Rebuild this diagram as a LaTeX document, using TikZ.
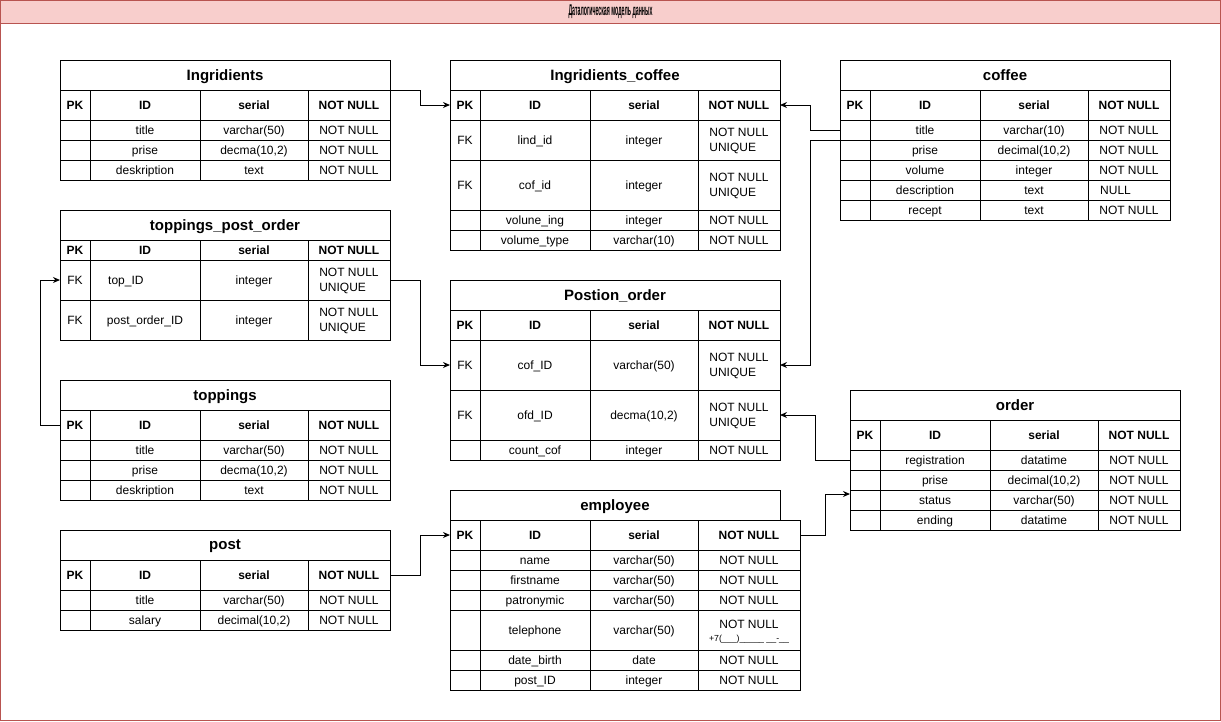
\documentclass[tikz,border=0pt]{standalone}
\usepackage{fontspec}
\setmainfont{Liberation Sans}
\usepackage{graphicx}
\usetikzlibrary{arrows.meta}
\definecolor{frameR}{HTML}{B85450}
\definecolor{framePink}{HTML}{F8CECC}
\newcommand\ttlfont{\fontsize{15}{18}\selectfont\bfseries}
\newcommand\cellbox[6]{\node[cell, minimum width=#4pt, minimum height=#5pt] (#1) at ({#2+#4/2},{#3+#5/2}) {\vphantom{A}#6};}
\newcommand\trow[9]{%
\cellbox{#1-1}{#2}{#3}{30}{#4}{#5}%
\cellbox{#1-2}{#2+30}{#3}{110}{#4}{#6}%
\cellbox{#1-3}{#2+140}{#3}{108}{#4}{#7}%
\cellbox{#1-4}{#2+248}{#3}{#9}{#4}{#8}}
\newcommand\hrow[4]{\trow{#1}{#2}{#3}{#4}{\bfseries PK}{\bfseries ID}{\bfseries serial}{\bfseries NOT NULL}{82}}
\begin{document}
\begin{tikzpicture}[x=1pt,y=-1pt,
  cell/.style={draw=black, line width=1pt, inner sep=0pt, outer sep=0pt, align=left, text depth=0pt, font=\fontsize{12}{15}\selectfont},
  txt/.style={inner sep=0pt, text depth=0pt, font=\fontsize{12}{15}\selectfont},
  conn/.style={draw=black, line width=1pt, -{Stealth[length=7pt,width=6pt]}}]
\useasboundingbox (0,0) rectangle (1221,721);
% frame
\node[draw=frameR, line width=1pt, minimum width=1220pt, minimum height=720pt, inner sep=0pt, outer sep=0pt] (frame) at (610.5,360.5) {};
\node[draw=frameR, fill=framePink, line width=1pt, minimum width=1220pt, minimum height=22.5pt, inner sep=0pt, outer sep=0pt] (framehead) at (610.5,11.75) {\resizebox{84pt}{\height}{\fontsize{15.5}{17}\selectfont\bfseries Даталогическая модель данных}};

% Ingridients
\cellbox{ing-t}{60}{60}{330}{30}{\ttlfont Ingridients}
\hrow{ing-h}{60}{90}{30}
\trow{ing-r1}{60}{120}{20}{}{title}{varchar(50)}{NOT NULL}{82}
\trow{ing-r2}{60}{140}{20}{}{prise}{decma(10,2)}{NOT NULL}{82}
\trow{ing-r3}{60}{160}{20}{}{deskription}{text}{NOT NULL}{82}

% Ingridients_coffee
\cellbox{ingc-t}{450}{60}{330}{30}{\ttlfont Ingridients\_coffee}
\hrow{ingc-h}{450}{90}{30}
\trow{ingc-r1}{450}{120}{40}{FK}{lind\_id}{integer}{NOT NULL\\UNIQUE}{82}
\trow{ingc-r2}{450}{160}{50}{FK}{cof\_id}{integer}{NOT NULL\\UNIQUE}{82}
\trow{ingc-r3}{450}{210}{20}{}{volune\_ing}{integer}{NOT NULL}{82}
\trow{ingc-r4}{450}{230}{20}{}{volume\_type}{varchar(10)}{NOT NULL}{82}

% coffee
\cellbox{cof-t}{840}{60}{330}{30}{\ttlfont coffee}
\hrow{cof-h}{840}{90}{30}
\trow{cof-r1}{840}{120}{20}{}{title}{varchar(10)}{NOT NULL}{82}
\trow{cof-r2}{840}{140}{20}{}{prise}{decimal(10,2)}{NOT NULL}{82}
\trow{cof-r3}{840}{160}{20}{}{volume}{integer}{NOT NULL}{82}
\trow{cof-r4}{840}{180}{20}{}{description}{text}{}{82}
\node[txt, anchor=west] (cof-null) at (1100,190) {\vphantom{A}NULL};
\trow{cof-r5}{840}{200}{20}{}{recept}{text}{NOT NULL}{82}

% toppings_post_order
\cellbox{tpo-t}{60}{210}{330}{30}{\ttlfont toppings\_post\_order}
\hrow{tpo-h}{60}{240}{20}
\trow{tpo-r1}{60}{260}{40}{FK}{}{integer}{NOT NULL\\UNIQUE}{82}
\node[txt, anchor=west] (tpo-topid) at (108,280) {\vphantom{A}top\_ID};
\trow{tpo-r2}{60}{300}{40}{FK}{post\_order\_ID}{integer}{NOT NULL\\UNIQUE}{82}

% toppings
\cellbox{top-t}{60}{380}{330}{30}{\ttlfont toppings}
\hrow{top-h}{60}{410}{30}
\trow{top-r1}{60}{440}{20}{}{title}{varchar(50)}{NOT NULL}{82}
\trow{top-r2}{60}{460}{20}{}{prise}{decma(10,2)}{NOT NULL}{82}
\trow{top-r3}{60}{480}{20}{}{deskription}{text}{NOT NULL}{82}

% Postion_order
\cellbox{po-t}{450}{280}{330}{30}{\ttlfont Postion\_order}
\hrow{po-h}{450}{310}{30}
\trow{po-r1}{450}{340}{50}{FK}{cof\_ID}{varchar(50)}{NOT NULL\\UNIQUE}{82}
\trow{po-r2}{450}{390}{50}{FK}{ofd\_ID}{decma(10,2)}{NOT NULL\\UNIQUE}{82}
\trow{po-r3}{450}{440}{20}{}{count\_cof}{integer}{NOT NULL}{82}

% order
\cellbox{ord-t}{850}{390}{330}{30}{\ttlfont order}
\hrow{ord-h}{850}{420}{30}
\trow{ord-r1}{850}{450}{20}{}{registration}{datatime}{NOT NULL}{82}
\trow{ord-r2}{850}{470}{20}{}{prise}{decimal(10,2)}{NOT NULL}{82}
\trow{ord-r3}{850}{490}{20}{}{status}{varchar(50)}{NOT NULL}{82}
\trow{ord-r4}{850}{510}{20}{}{ending}{datatime}{NOT NULL}{82}

% post
\cellbox{post-t}{60}{530}{330}{30}{\ttlfont post}
\hrow{post-h}{60}{560}{30}
\trow{post-r1}{60}{590}{20}{}{title}{varchar(50)}{NOT NULL}{82}
\trow{post-r2}{60}{610}{20}{}{salary}{decimal(10,2)}{NOT NULL}{82}

% employee
\cellbox{emp-t}{450}{490}{330}{30}{\ttlfont employee}
\trow{emp-h}{450}{520}{30}{\bfseries PK}{\bfseries ID}{\bfseries serial}{\bfseries NOT NULL}{102}
\trow{emp-r1}{450}{550}{20}{}{name}{varchar(50)}{NOT NULL}{102}
\trow{emp-r2}{450}{570}{20}{}{firstname}{varchar(50)}{NOT NULL}{102}
\trow{emp-r3}{450}{590}{20}{}{patronymic}{varchar(50)}{NOT NULL}{102}
\trow{emp-r4}{450}{610}{40}{}{telephone}{varchar(50)}{}{102}
\node[txt, align=center] (emp-tel) at (749,631) {NOT NULL\\[-2pt]{\fontsize{8.8}{10}\selectfont +7(\_\_\_)\_\_\_\_\_ \_\_-\_\_}};
\trow{emp-r5}{450}{650}{20}{}{date\_birth}{date}{NOT NULL}{102}
\trow{emp-r6}{450}{670}{20}{}{post\_ID}{integer}{NOT NULL}{102}

% connectors
\draw[conn] (ing-t.south east) -- ++(30,0) |- (ingc-h-1.west);
\draw[conn] (cof-r1-1.west) -- ++(-30,0) |- (ingc-h-4.east);
\draw[conn] (cof-r1-1.south west) -- ++(-30,0) |- (po-r1-4.east);
\draw[conn] (tpo-r1-4.east) -- ++(30,0) |- (po-r1-1.west);
\draw[conn] (top-h-1.west) -- ++(-20,0) |- (tpo-r1-1.west);
\draw[conn] (ord-r1-1.west) -- ++(-35,0) |- (po-r2-4.east);
\draw[conn] (emp-h-4.east) -- ++(25,0) |- ([yshift=-4pt]ord-r3-1.north west);
\draw[conn] (post-h-4.east) -- ++(30,0) |- (emp-h-1.west);
\end{tikzpicture}
\end{document}
